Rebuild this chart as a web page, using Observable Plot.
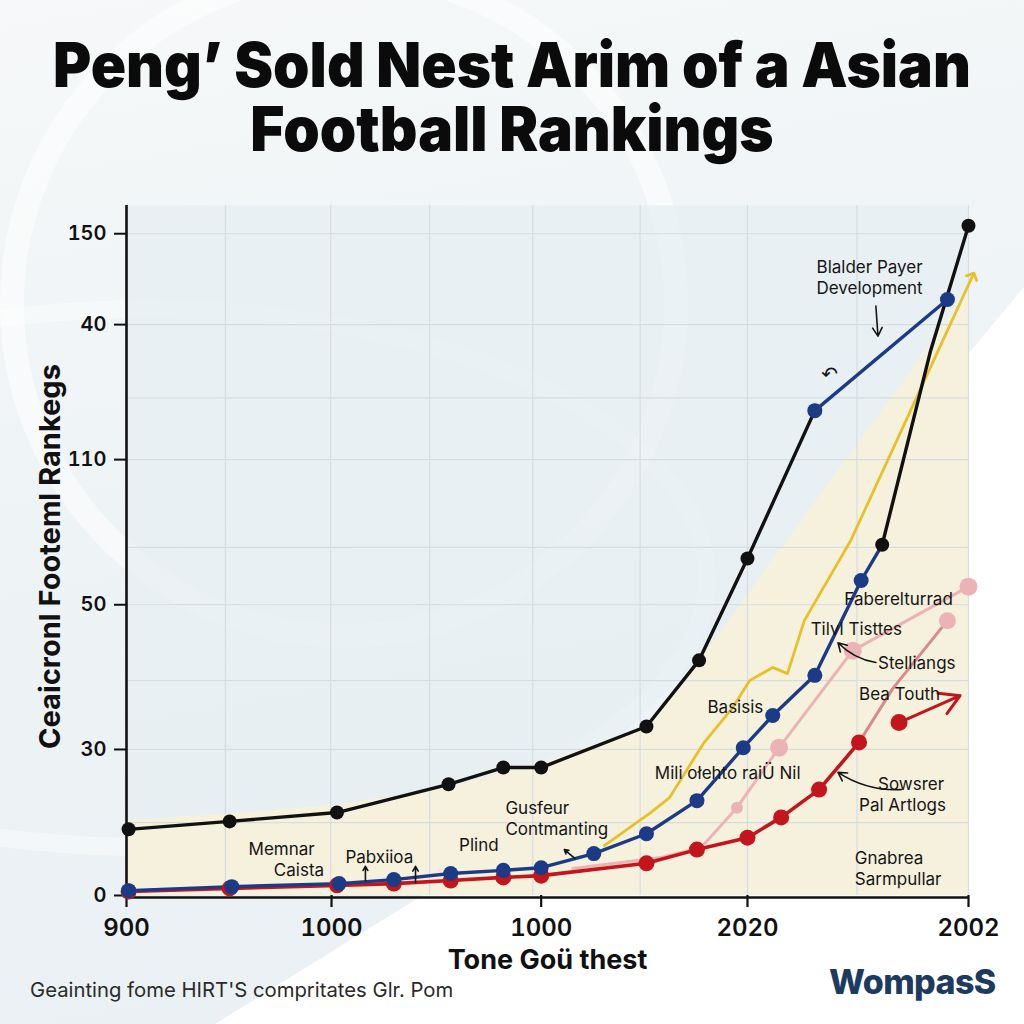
<!DOCTYPE html>
<html>
<head>
<meta charset="utf-8">
<script src="https://cdn.jsdelivr.net/npm/d3@7"></script>
<script src="https://cdn.jsdelivr.net/npm/@observablehq/plot@0.6"></script>
<style>
  html, body { margin:0; padding:0; }
  #page { position:relative; width:1024px; height:1024px; overflow:hidden;
          background: linear-gradient(170deg, #f6f8f9 0%, #eef3f5 45%, #e9f0f3 100%);
          font-family: Inter, "Noto Sans", sans-serif; }
  .white { position:absolute; inset:0; background:#ffffff;
           clip-path: polygon(21% 100%, 50% 82%, 76% 57%, 100% 28%, 100% 100%); }
  .ring { position:absolute; border-radius:50%; border-style:solid; border-color:rgba(255,255,255,0.5); }
  #titlebox { position:absolute; left:0; top:33px; width:1024px; text-align:center; }
  #title { display:inline-block; transform-origin:center top; margin:0;
           font-family: Inter, sans-serif; font-weight:900; font-size:62px; line-height:64px; color:#0b0b0b;
           white-space:nowrap; text-align:center; }
  #chart { position:absolute; left:0; top:180px; }
  #caption { position:absolute; left:30px; top:977px; font-size:20.3px; color:#2a2a2a; white-space:nowrap; }
  #logo { position:absolute; left:829px; top:961px; font-size:34px; font-weight:800; color:#1d3a5f; letter-spacing:-0.6px; }
</style>
</head>
<body>
<div id="page">
  <div class="ring" style="left:0px;top:-40px;width:640px;height:640px;border-width:24px;"></div>
  <div class="ring" style="left:-420px;top:300px;width:1100px;height:520px;border-width:18px;border-color:rgba(255,255,255,0.4)"></div>
  <div class="white"></div>
  <div id="titlebox"><h1 id="title">Peng’ Sold Nest Arim of a Asian<br>Football Rankings</h1></div>
  <div id="chart"></div>
  <div id="caption">Geainting fome HIRT'S compritates Glr. Pom</div>
  <div id="logo">WompasS</div>
</div>
<script>
// ---- axis ticks (positions and their printed labels) ----
const xTickPos = [0, 0.974, 1.97, 2.95, 4];
const xTickLabels = ["900", "1000", "1000", "2020", "2002"];
const yTickPos = [0, 33.1, 65.9, 98.8, 129.4, 150];
const yTickLabels = ["0", "30", "50", "110", "40", "150"];
const gridXPos = [0.47, 0.97, 1.44, 1.93, 2.44, 2.95, 3.47, 4.0];
const gridYPos = [16.5, 33.1, 48.7, 65.9, 78.9, 98.8, 112.8, 129.4, 150];

// ---- series ----
const blackX = [0.01, 0.49, 1.00, 1.53, 1.79, 1.97, 2.47, 2.72, 2.95, 3.27];
const blackY = [15.0, 16.8, 18.8, 25.2, 29.0, 29.0, 38.3, 53.3, 76.4, 109.9];
const blueTopX = [3.27, 3.90];
const blueTopY = [109.9, 135.1];
const blackTopX = [3.59, 3.82, 4.00];
const blackTopY = [79.5, 123.5, 151.8];
const blueX = [0.01, 0.50, 1.01, 1.27, 1.54, 1.79, 1.97, 2.22, 2.47, 2.71, 2.93, 3.07, 3.27, 3.49, 3.59];
const blueY = [1.1, 2.0, 2.7, 3.6, 5.0, 5.7, 6.3, 9.5, 14.0, 21.5, 33.5, 40.8, 49.9, 71.4, 79.5];
const redX = [0.01, 0.49, 1.00, 1.27, 1.54, 1.79, 1.97, 2.47, 2.71, 2.95, 3.11, 3.29, 3.48];
const redY = [0.9, 1.6, 2.3, 2.7, 3.4, 4.1, 4.5, 7.3, 10.4, 13.1, 17.7, 24.0, 34.7];
const roseX = [3.48, 3.64, 3.90];
const roseY = [34.7, 46.9, 62.3];
const redArrowX = [3.67, 3.96];
const redArrowY = [39.2, 45.3];
const pinkX = [2.12, 2.54, 2.73, 2.90, 3.10, 3.45, 4.00];
const pinkY = [6.1, 8.6, 10.9, 19.9, 33.5, 55.5, 70.0];
const yellowX = [2.27, 2.49, 2.58, 2.74, 2.88, 2.96, 3.07, 3.14, 3.22, 3.44, 4.02];
const yellowY = [11.3, 18.8, 22.2, 34.4, 42.6, 48.7, 51.7, 50.3, 62.3, 80.4, 140.5];
const fillX = [0, 0.5, 1.0, 1.5, 1.97, 2.47, 2.72, 2.95, 3.30, 3.70, 4.0];
const fillY = [17, 18.5, 20.5, 24, 30, 38.3, 53, 68, 91, 117, 137];

// ---- annotations ----
const noteText = ["Blalder Payer\nDevelopment", "Faberelturrad", "Tilvl Tisttes", "Stelliangs", "Bea Touth",
  "Basisis", "Mili ołehto raiÜ Nil", "Sowsrer", "Pal Artlogs", "Gusfeur\nContmanting", "Plind",
  "Memnar", "Caista", "Pabxiioa", "Gnabrea\nSarmpullar"];
const noteX = [3.53, 3.41, 3.25, 3.57, 3.48, 2.76, 2.51, 3.57, 3.48, 1.80, 1.58, 0.58, 0.70, 1.04, 3.46];
const noteY = [140.3, 67.5, 60.5, 52.8, 45.8, 42.8, 27.9, 25.4, 20.8, 17.6, 11.6, 10.7, 5.9, 8.8, 6.3];
const noteCentered = [true, false, false, false, false, false, false, false, false, false, false, false, false, false, false];
const arrowX1 = [3.56, 2.13, 1.135, 1.373, 3.68, 3.56];
const arrowY1 = [133.6, 8.4, 3.4, 2.9, 24.0, 52.8];
const arrowX2 = [3.57, 2.08, 1.135, 1.373, 3.38, 3.38];
const arrowY2 = [126.8, 10.4, 6.6, 6.6, 27.9, 57.3];
const arrowCurved = [false, false, false, false, true, true];
const glyphText = ["↶"];
const glyphX = [3.34];
const glyphY = [118.0];

const rows = (xs, ys) => xs.map((x, i) => ({x, y: ys[i]}));
const notes = noteText.map((t, i) => ({text: t, x: noteX[i], y: noteY[i], c: noteCentered[i]}));
const arrows = arrowX1.map((x1, i) => ({x1, y1: arrowY1[i], x2: arrowX2[i], y2: arrowY2[i], c: arrowCurved[i]}));
const glyphs = glyphText.map((t, i) => ({text: t, x: glyphX[i], y: glyphY[i]}));

const black = rows(blackX, blackY), blueTop = rows(blueTopX, blueTopY), blackTop = rows(blackTopX, blackTopY);
const blue = rows(blueX, blueY), red = rows(redX, redY), rose = rows(roseX, roseY);
const pink = rows(pinkX, pinkY), yellow = rows(yellowX, yellowY), fill = rows(fillX, fillY);

const C = {black:"#111111", blue:"#1d3a86", red:"#c3161c", rose:"#d98a8e", pink:"#ecb3b6", yellow:"#e6c12a"};
const arrowStyle = {x1: "x1", y1: "y1", x2: "x2", y2: "y2", stroke: "#151515", strokeWidth: 1.6, headLength: 9};

const chart = Plot.plot({
  width: 1024, height: 800,
  marginLeft: 126, marginRight: 56, marginTop: 25, marginBottom: 85,
  x: {domain: [0, 4]},
  y: {domain: [0, 156.4]},
  style: {fontFamily: "Inter, sans-serif", background: "transparent", overflow: "visible", color: "#111"},
  marks: [
    Plot.frame({fill: "#e6eef2", fillOpacity: 0.7, stroke: null}),
    Plot.areaY(fill, {x: "x", y: "y", fill: "#f6f0db", fillOpacity: 0.95}),
    Plot.ruleX(gridXPos, {stroke: "#d6dde0", strokeWidth: 1.2}),
    Plot.ruleY(gridYPos, {stroke: "#d6dde0", strokeWidth: 1.2}),
    Plot.axisY({ticks: yTickPos, tickFormat: d => yTickLabels[yTickPos.indexOf(d)], tickSize: 12, tickPadding: 8,
      fontSize: 20, fontWeight: 600, color: "#111", strokeWidth: 2, label: null}),
    Plot.axisX({ticks: xTickPos, tickFormat: d => xTickLabels[xTickPos.indexOf(d)], tickSize: 12, tickPadding: 11,
      fontSize: 24, fontWeight: 600, color: "#111", strokeWidth: 2.2, label: null}),
    Plot.ruleX([0], {y1: -0.45, y2: 156.4, stroke: "#111", strokeWidth: 2.6}),
    Plot.ruleY([-0.45], {x1: 0, x2: 4.0, stroke: "#111", strokeWidth: 2.6}),
    Plot.text(["Tone Goü thest"], {frameAnchor: "bottom", dy: 73, fontSize: 27, fontWeight: 700, fill: "#111"}),
    Plot.text(["Ceaicronl Footeml Rankegs"], {frameAnchor: "left", textAnchor: "middle", dx: -76, dy: 6, rotate: -90,
      fontSize: 29, fontWeight: 700, fill: "#111"}),
    // series lines
    Plot.line(pink, {x: "x", y: "y", stroke: C.pink, strokeWidth: 3}),
    Plot.line(rose, {x: "x", y: "y", stroke: C.rose, strokeWidth: 3}),
    Plot.line(yellow, {x: "x", y: "y", stroke: C.yellow, strokeWidth: 2.8, markerEnd: "arrow"}),
    Plot.line(red, {x: "x", y: "y", stroke: C.red, strokeWidth: 3.6}),
    Plot.arrow([{x1: redArrowX[0], y1: redArrowY[0], x2: redArrowX[1], y2: redArrowY[1]}],
      {x1: "x1", y1: "y1", x2: "x2", y2: "y2", stroke: C.red, strokeWidth: 3, headLength: 12}),
    Plot.line(blue, {x: "x", y: "y", stroke: C.blue, strokeWidth: 3.4}),
    Plot.line(black, {x: "x", y: "y", stroke: C.black, strokeWidth: 3.4}),
    Plot.line(blackTop, {x: "x", y: "y", stroke: C.black, strokeWidth: 3.4}),
    Plot.line(blueTop, {x: "x", y: "y", stroke: C.blue, strokeWidth: 3.4}),
    // dots
    Plot.dot([pink[3]], {x: "x", y: "y", r: 6, fill: C.pink}),
    Plot.dot(pink.slice(4), {x: "x", y: "y", r: 9, fill: C.pink}),
    Plot.dot(rose.slice(2), {x: "x", y: "y", r: 8.5, fill: C.pink}),
    Plot.dot(red, {x: "x", y: "y", r: 8, fill: C.red}),
    Plot.dot([{x: redArrowX[0], y: redArrowY[0]}], {x: "x", y: "y", r: 8.5, fill: C.red}),
    Plot.dot(blue.slice(0, -1), {x: "x", y: "y", r: 7.5, fill: C.blue}),
    Plot.dot(black, {x: "x", y: "y", r: 7, fill: C.black}),
    Plot.dot([blackTop[0], blackTop[2]], {x: "x", y: "y", r: 7, fill: C.black}),
    Plot.dot(blueTop, {x: "x", y: "y", r: 7.5, fill: C.blue}),
    // annotations
    Plot.text(notes.filter(d => d.c), {x: "x", y: "y", text: "text", textAnchor: "middle", fontSize: 17, fill: "#151515", lineHeight: 1.25}),
    Plot.text(notes.filter(d => !d.c), {x: "x", y: "y", text: "text", textAnchor: "start", fontSize: 17, fill: "#151515", lineHeight: 1.25}),
    Plot.arrow(arrows.filter(d => !d.c), arrowStyle),
    Plot.arrow(arrows.filter(d => d.c), {...arrowStyle, bend: 18}),
    Plot.text(glyphs, {x: "x", y: "y", text: "text", fontSize: 20, fontFamily: "DejaVu Sans", fill: "#151515"})
  ]
});
document.getElementById("chart").appendChild(chart);

// fit the title block so that its first line spans the reference width
const titleEl = document.getElementById("title");
const tw = titleEl.getBoundingClientRect().width;
if (tw > 0) titleEl.style.transform = `scaleX(${918 / tw})`;
</script>
</body>
</html>
